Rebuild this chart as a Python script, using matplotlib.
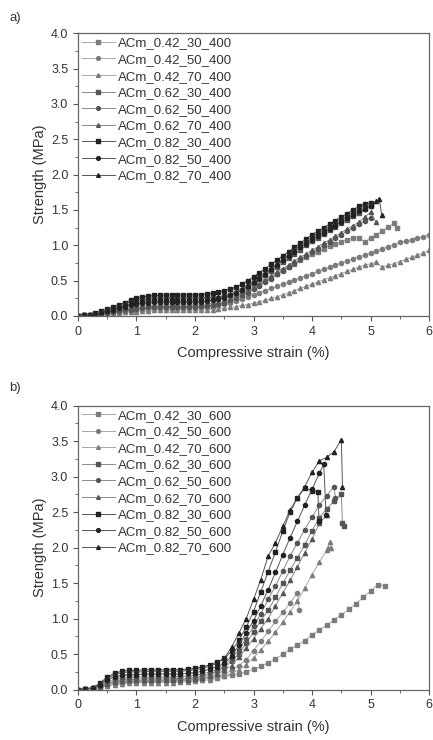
import numpy as np
import matplotlib
matplotlib.use('Agg')
import matplotlib.pyplot as plt
from matplotlib.ticker import MultipleLocator

# ---- panel a: strain grid (%), 0.1 steps ----
strain_a = [0.0, 0.1, 0.2, 0.3, 0.4, 0.5, 0.6, 0.7, 0.8, 0.9,
            1.0, 1.1, 1.2, 1.3, 1.4, 1.5, 1.6, 1.7, 1.8, 1.9,
            2.0, 2.1, 2.2, 2.3, 2.4, 2.5, 2.6, 2.7, 2.8, 2.9,
            3.0, 3.1, 3.2, 3.3, 3.4, 3.5, 3.6, 3.7, 3.8, 3.9,
            4.0, 4.1, 4.2, 4.3, 4.4, 4.5, 4.6, 4.7, 4.8, 4.9,
            5.0, 5.1, 5.2, 5.3, 5.4, 5.5, 5.6, 5.7, 5.8, 5.9, 6.0]

a_042_30 = [0.00, 0.01, 0.01, 0.02, 0.03, 0.04, 0.05, 0.06, 0.07, 0.08,
            0.09, 0.10, 0.10, 0.11, 0.11, 0.11, 0.11, 0.11, 0.11, 0.12,
            0.12, 0.12, 0.12, 0.13, 0.15, 0.18, 0.21, 0.25, 0.29, 0.34,
            0.39, 0.44, 0.49, 0.54, 0.60, 0.65, 0.70, 0.74, 0.79, 0.83,
            0.87, 0.91, 0.95, 0.99, 1.02, 1.05, 1.08, 1.10, 1.11, 1.05,
            1.10, 1.15, 1.20, 1.26, 1.31]
a_042_50 = [0.00, 0.01, 0.02, 0.03, 0.04, 0.05, 0.06, 0.08, 0.09, 0.10,
            0.11, 0.12, 0.13, 0.13, 0.14, 0.14, 0.14, 0.14, 0.14, 0.14,
            0.14, 0.14, 0.15, 0.15, 0.16, 0.17, 0.19, 0.21, 0.24, 0.27,
            0.30, 0.33, 0.36, 0.39, 0.42, 0.45, 0.48, 0.51, 0.54, 0.57,
            0.60, 0.63, 0.66, 0.69, 0.72, 0.75, 0.78, 0.81, 0.84, 0.86,
            0.89, 0.92, 0.95, 0.98, 1.01, 1.04, 1.06, 1.08, 1.10, 1.12, 1.15]
a_042_70 = [0.00, 0.00, 0.01, 0.01, 0.02, 0.02, 0.03, 0.04, 0.05, 0.05,
            0.06, 0.07, 0.07, 0.08, 0.08, 0.08, 0.08, 0.08, 0.08, 0.08,
            0.08, 0.08, 0.09, 0.09, 0.10, 0.11, 0.12, 0.13, 0.15, 0.16,
            0.18, 0.20, 0.22, 0.25, 0.27, 0.30, 0.33, 0.36, 0.39, 0.42,
            0.45, 0.48, 0.51, 0.54, 0.57, 0.60, 0.63, 0.66, 0.69, 0.72,
            0.74, 0.76, 0.69, 0.72, 0.74, 0.77, 0.80, 0.83, 0.86, 0.89, 0.93]
a_062_30 = [0.00, 0.01, 0.02, 0.03, 0.05, 0.07, 0.09, 0.12, 0.14, 0.17,
            0.19, 0.21, 0.22, 0.23, 0.24, 0.24, 0.24, 0.24, 0.24, 0.24,
            0.24, 0.24, 0.25, 0.25, 0.26, 0.28, 0.30, 0.33, 0.37, 0.41,
            0.46, 0.52, 0.58, 0.64, 0.70, 0.76, 0.82, 0.88, 0.94, 1.00,
            1.06, 1.11, 1.16, 1.21, 1.26, 1.31, 1.36, 1.41, 1.46, 1.51, 1.56]
a_062_50 = [0.00, 0.01, 0.01, 0.02, 0.03, 0.04, 0.05, 0.07, 0.08, 0.09,
            0.10, 0.11, 0.12, 0.13, 0.13, 0.13, 0.13, 0.13, 0.13, 0.13,
            0.13, 0.14, 0.14, 0.15, 0.17, 0.19, 0.22, 0.25, 0.29, 0.33,
            0.38, 0.43, 0.48, 0.53, 0.59, 0.64, 0.69, 0.75, 0.80, 0.85,
            0.90, 0.95, 1.00, 1.05, 1.10, 1.15, 1.20, 1.25, 1.30, 1.35, 1.39]
a_062_70 = [0.00, 0.01, 0.02, 0.03, 0.04, 0.05, 0.07, 0.08, 0.10, 0.11,
            0.13, 0.14, 0.15, 0.15, 0.16, 0.16, 0.16, 0.16, 0.16, 0.16,
            0.16, 0.16, 0.17, 0.18, 0.19, 0.21, 0.24, 0.27, 0.31, 0.35,
            0.40, 0.45, 0.51, 0.56, 0.62, 0.67, 0.72, 0.78, 0.83, 0.88,
            0.93, 0.98, 1.03, 1.08, 1.13, 1.18, 1.23, 1.28, 1.33, 1.40, 1.47]
a_082_30 = [0.00, 0.01, 0.02, 0.04, 0.07, 0.10, 0.13, 0.16, 0.19, 0.22,
            0.25, 0.27, 0.28, 0.29, 0.29, 0.30, 0.30, 0.30, 0.30, 0.30,
            0.30, 0.30, 0.31, 0.32, 0.34, 0.36, 0.38, 0.41, 0.45, 0.50,
            0.55, 0.61, 0.67, 0.73, 0.79, 0.85, 0.91, 0.97, 1.03, 1.09,
            1.15, 1.20, 1.25, 1.30, 1.35, 1.40, 1.45, 1.50, 1.55, 1.59, 1.60]
a_082_50 = [0.00, 0.01, 0.02, 0.03, 0.05, 0.07, 0.09, 0.11, 0.13, 0.15,
            0.17, 0.18, 0.19, 0.20, 0.20, 0.20, 0.20, 0.20, 0.20, 0.20,
            0.20, 0.20, 0.21, 0.22, 0.24, 0.26, 0.29, 0.33, 0.37, 0.42,
            0.48, 0.54, 0.60, 0.66, 0.72, 0.79, 0.85, 0.91, 0.97, 1.02,
            1.08, 1.13, 1.18, 1.23, 1.28, 1.33, 1.38, 1.43, 1.48, 1.52, 1.55]
a_082_70 = [0.00, 0.01, 0.02, 0.04, 0.06, 0.09, 0.12, 0.14, 0.17, 0.20,
            0.22, 0.24, 0.25, 0.26, 0.26, 0.26, 0.26, 0.26, 0.26, 0.26,
            0.26, 0.26, 0.26, 0.26, 0.27, 0.29, 0.31, 0.34, 0.38, 0.43,
            0.48, 0.54, 0.60, 0.66, 0.73, 0.80, 0.87, 0.94, 1.00, 1.06,
            1.12, 1.17, 1.22, 1.27, 1.32, 1.37, 1.42, 1.47, 1.52, 1.56,
            1.59, 1.62]

# failure tails after the last grid point (strain, strength)
tails_a = {
    'ACm_0.42_30_400': ([5.45], [1.25]),
    'ACm_0.62_70_400': ([5.09], [1.33]),
    'ACm_0.82_70_400': ([5.15, 5.19], [1.65, 1.43]),
}

# ---- panel b: strain grid (%), 0.125 steps ----
strain_b = [0.0, 0.125, 0.25, 0.375, 0.5, 0.625, 0.75, 0.875,
            1.0, 1.125, 1.25, 1.375, 1.5, 1.625, 1.75, 1.875,
            2.0, 2.125, 2.25, 2.375, 2.5, 2.625, 2.75, 2.875,
            3.0, 3.125, 3.25, 3.375, 3.5, 3.625, 3.75, 3.875,
            4.0, 4.125, 4.25, 4.375, 4.5, 4.625, 4.75, 4.875,
            5.0, 5.125, 5.25]

b_042_30 = [0.00, 0.01, 0.02, 0.05, 0.08, 0.10, 0.11, 0.12,
            0.12, 0.12, 0.12, 0.13, 0.13, 0.13, 0.14, 0.14,
            0.15, 0.16, 0.17, 0.18, 0.19, 0.20, 0.22, 0.25,
            0.29, 0.33, 0.38, 0.43, 0.50, 0.57, 0.63, 0.69,
            0.77, 0.84, 0.91, 0.98, 1.05, 1.13, 1.21, 1.30,
            1.39, 1.48, 1.46]
b_042_50 = [0.00, 0.01, 0.02, 0.04, 0.07, 0.09, 0.10, 0.11,
            0.11, 0.12, 0.12, 0.12, 0.12, 0.12, 0.13, 0.13,
            0.14, 0.15, 0.17, 0.19, 0.22, 0.27, 0.34, 0.42,
            0.55, 0.68, 0.82, 0.96, 1.09, 1.22, 1.36]
b_042_70 = [0.00, 0.01, 0.02, 0.03, 0.05, 0.07, 0.08, 0.09,
            0.09, 0.10, 0.10, 0.10, 0.10, 0.10, 0.11, 0.11,
            0.12, 0.13, 0.14, 0.16, 0.19, 0.23, 0.28, 0.35,
            0.45, 0.56, 0.68, 0.81, 0.95, 1.10, 1.25, 1.43,
            1.62, 1.80, 1.96]
b_062_30 = [0.00, 0.01, 0.02, 0.04, 0.09, 0.12, 0.14, 0.14,
            0.15, 0.15, 0.15, 0.15, 0.15, 0.15, 0.16, 0.16,
            0.17, 0.19, 0.22, 0.26, 0.31, 0.40, 0.50, 0.66,
            0.81, 0.97, 1.12, 1.30, 1.50, 1.68, 1.86, 2.04,
            2.24, 2.42, 2.55, 2.65, 2.75]
b_062_50 = [0.00, 0.01, 0.02, 0.05, 0.11, 0.15, 0.17, 0.17,
            0.18, 0.18, 0.18, 0.18, 0.18, 0.18, 0.19, 0.19,
            0.20, 0.22, 0.25, 0.28, 0.33, 0.44, 0.56, 0.72,
            0.89, 1.07, 1.27, 1.46, 1.67, 1.88, 2.07, 2.25,
            2.43, 2.60, 2.73, 2.86]
b_062_70 = [0.00, 0.01, 0.02, 0.04, 0.08, 0.11, 0.12, 0.13,
            0.13, 0.13, 0.13, 0.13, 0.13, 0.14, 0.14, 0.14,
            0.15, 0.17, 0.19, 0.22, 0.27, 0.34, 0.46, 0.58,
            0.72, 0.86, 1.00, 1.18, 1.36, 1.54, 1.73, 1.93,
            2.12, 2.34, 2.46]
b_082_30 = [0.00, 0.01, 0.03, 0.09, 0.18, 0.23, 0.26, 0.27,
            0.27, 0.28, 0.28, 0.28, 0.28, 0.28, 0.28, 0.29,
            0.30, 0.32, 0.35, 0.39, 0.44, 0.54, 0.70, 0.88,
            1.10, 1.38, 1.66, 1.94, 2.23, 2.50, 2.70, 2.84,
            2.80]
b_082_50 = [0.00, 0.01, 0.02, 0.07, 0.14, 0.18, 0.20, 0.21,
            0.21, 0.22, 0.22, 0.22, 0.22, 0.22, 0.22, 0.23,
            0.24, 0.26, 0.29, 0.32, 0.37, 0.47, 0.63, 0.80,
            0.97, 1.18, 1.41, 1.65, 1.90, 2.14, 2.37, 2.60,
            2.82, 3.05]
b_082_70 = [0.00, 0.01, 0.03, 0.08, 0.16, 0.21, 0.24, 0.25,
            0.25, 0.25, 0.26, 0.26, 0.26, 0.26, 0.26, 0.27,
            0.28, 0.30, 0.33, 0.37, 0.44, 0.60, 0.80, 1.00,
            1.27, 1.55, 1.88, 2.07, 2.30, 2.53, 2.70, 2.86,
            3.06, 3.22, 3.27, 3.35, 3.52]

tails_b = {
    'ACm_0.42_50_600': ([3.78], [1.12]),
    'ACm_0.42_70_600': ([4.30, 4.33, 4.27], [2.08, 2.00, 2.00]),
    'ACm_0.62_30_600': ([4.52, 4.55], [2.35, 2.31]),
    'ACm_0.62_50_600': ([4.40], [2.70]),
    'ACm_0.82_30_600': ([4.10, 4.12], [2.78, 2.37]),
    'ACm_0.82_50_600': ([4.20, 4.24], [3.17, 2.46]),
    'ACm_0.82_70_600': ([4.52], [2.86]),
}

# grey shade by w/c ratio, marker by second number
shade = {'0.42': '#7c7c7c', '0.62': '#555555', '0.82': '#222222'}
line_shade = {'0.42': '#a8a8a8', '0.62': '#8a8a8a', '0.82': '#555555'}
marker = {'30': 's', '50': 'o', '70': '^'}

series_a = [('ACm_0.42_30_400', a_042_30), ('ACm_0.42_50_400', a_042_50),
            ('ACm_0.42_70_400', a_042_70), ('ACm_0.62_30_400', a_062_30),
            ('ACm_0.62_50_400', a_062_50), ('ACm_0.62_70_400', a_062_70),
            ('ACm_0.82_30_400', a_082_30), ('ACm_0.82_50_400', a_082_50),
            ('ACm_0.82_70_400', a_082_70)]
series_b = [('ACm_0.42_30_600', b_042_30), ('ACm_0.42_50_600', b_042_50),
            ('ACm_0.42_70_600', b_042_70), ('ACm_0.62_30_600', b_062_30),
            ('ACm_0.62_50_600', b_062_50), ('ACm_0.62_70_600', b_062_70),
            ('ACm_0.82_30_600', b_082_30), ('ACm_0.82_50_600', b_082_50),
            ('ACm_0.82_70_600', b_082_70)]

txt = '#333333'
plt.rcParams['font.family'] = ['Liberation Sans', 'DejaVu Sans']

fig = plt.figure(figsize=(4.33, 7.40), dpi=100)
ax_a = fig.add_axes([0.180, 0.573, 0.811, 0.382])
ax_b = fig.add_axes([0.180, 0.068, 0.811, 0.384])


def draw_panel(ax, grid, series, tails):
    for name, vals in series:
        parts = name.split('_')
        c = shade[parts[1]]
        x = list(grid[:len(vals)])
        y = list(vals)
        if name in tails:
            x += tails[name][0]
            y += tails[name][1]
        ax.plot(x, y, color=line_shade[parts[1]], lw=0.7, marker=marker[parts[2]],
                ms=3.0, mfc=c, mec=c, label=name)
    ax.set_xlim(0, 6)
    ax.set_ylim(0, 4)
    ax.xaxis.set_major_locator(MultipleLocator(1))
    ax.xaxis.set_minor_locator(MultipleLocator(0.5))
    ax.yaxis.set_major_locator(MultipleLocator(0.5))
    ax.yaxis.set_minor_locator(MultipleLocator(0.25))
    ax.yaxis.set_major_formatter(plt.FormatStrFormatter('%.1f'))
    ax.tick_params(which='major', length=3.5, width=0.8, color='#555555',
                   labelsize=9, labelcolor=txt, direction='out')
    ax.tick_params(which='minor', length=2, width=0.6, color='#555555', direction='out')
    for s in ax.spines.values():
        s.set_color('#666666')
        s.set_linewidth(0.9)
    ax.set_xlabel('Compressive strain (%)', fontsize=10.5, color=txt, labelpad=6)
    ax.set_ylabel('Strength (MPa)', fontsize=10.5, color=txt, labelpad=3)
    ax.legend(loc='upper left', frameon=False, fontsize=9.5, handlelength=2.5,
              handletextpad=0.2, labelspacing=0.33, borderaxespad=0.1,
              borderpad=0.2, labelcolor=txt, markerscale=0.9)


draw_panel(ax_a, strain_a, series_a, tails_a)
draw_panel(ax_b, strain_b, series_b, tails_b)

fig.text(0.022, 0.975, 'a)', fontsize=9.5, color=txt, va='center')
fig.text(0.022, 0.476, 'b)', fontsize=9.5, color=txt, va='center')

fig.savefig('out.png', dpi=100)
